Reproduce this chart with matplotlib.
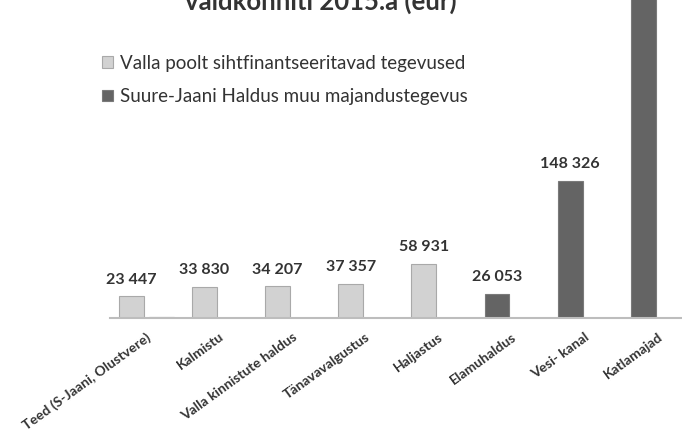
import numpy as np
import matplotlib.pyplot as plt

plt.rcParams['font.family'] = ['Lato', 'DejaVu Sans']

# Data
categories = ["Teed (S-Jaani, Olustvere)", "Kalmistu", "Valla kinnistute haldus",
              "Tänavavalgustus", "Haljastus", "Elamuhaldus", "Vesi- kanal", "Katlamajad"]
light_values = [23447, 33830, 34207, 37357, 58931, 0, 0, 0]
dark_values = [900, 0, 0, 0, 0, 26053, 148326, 400000]
series_names = ["Valla poolt sihtfinantseeritavad tegevused",
                "Suure-Jaani Haldus muu majandustegevus"]
title = "valdkonniti 2015.a (eur)"

light_col = "#d2d2d2"
dark_col = "#646464"

fig = plt.figure(figsize=(6.82, 4.32), dpi=100)
ax = fig.add_axes([110/682, 114/432, 572/682, 318/432])

x = np.arange(len(categories))
light = np.array(light_values)
dark = np.array(dark_values)
w = 0.34

lb = ax.bar(x[light > 0], light[light > 0], width=w, color=light_col,
            edgecolor="#a9a9a9", linewidth=0.8, label=series_names[0])
# the small dark bar in the first category sits beside the light one
dark_x = x + np.where(light > 0, 0.42, 0.0)
db = ax.bar(dark_x[dark > 0], dark[dark > 0], width=w, color=dark_col,
            edgecolor="#7a7a7a", linewidth=0.8, label=series_names[1])

# value labels
for xi, lv, dv in zip(x, light, dark):
    v = lv if lv > 0 else dv
    ax.text(xi, v + 10500, f"{v:,}".replace(",", " "), ha="center", va="bottom",
            fontsize=11.5, fontweight="bold", color="#333333")

ax.set_xlim(-0.29, 7.53)
ax.set_ylim(0, 344400)
ax.set_xticks(x + 0.2)
ax.set_xticklabels(categories, rotation=36, ha="right", rotation_mode="anchor",
                   fontsize=10, fontweight="bold", color="#333333")
ax.tick_params(axis="x", length=0, pad=9)
ax.set_yticks([])
for s in ["top", "right", "left"]:
    ax.spines[s].set_visible(False)
ax.spines["bottom"].set_color("#bdbdbd")
ax.spines["bottom"].set_linewidth(1.5)

ax.legend(handles=[lb, db], loc="upper left", bbox_to_anchor=(102/682, 1 - 55/432),
          bbox_transform=fig.transFigure, frameon=False, fontsize=13.5,
          handlelength=0.6, handleheight=0.6, handletextpad=0.35, labelspacing=0.86,
          borderpad=0, borderaxespad=0, labelcolor="#333333")

fig.text(321/682, 1 - 10/432, title, ha="center", va="baseline",
         fontsize=18.5, fontweight="bold", color="#333333")

fig.savefig("out.png", dpi=100)
